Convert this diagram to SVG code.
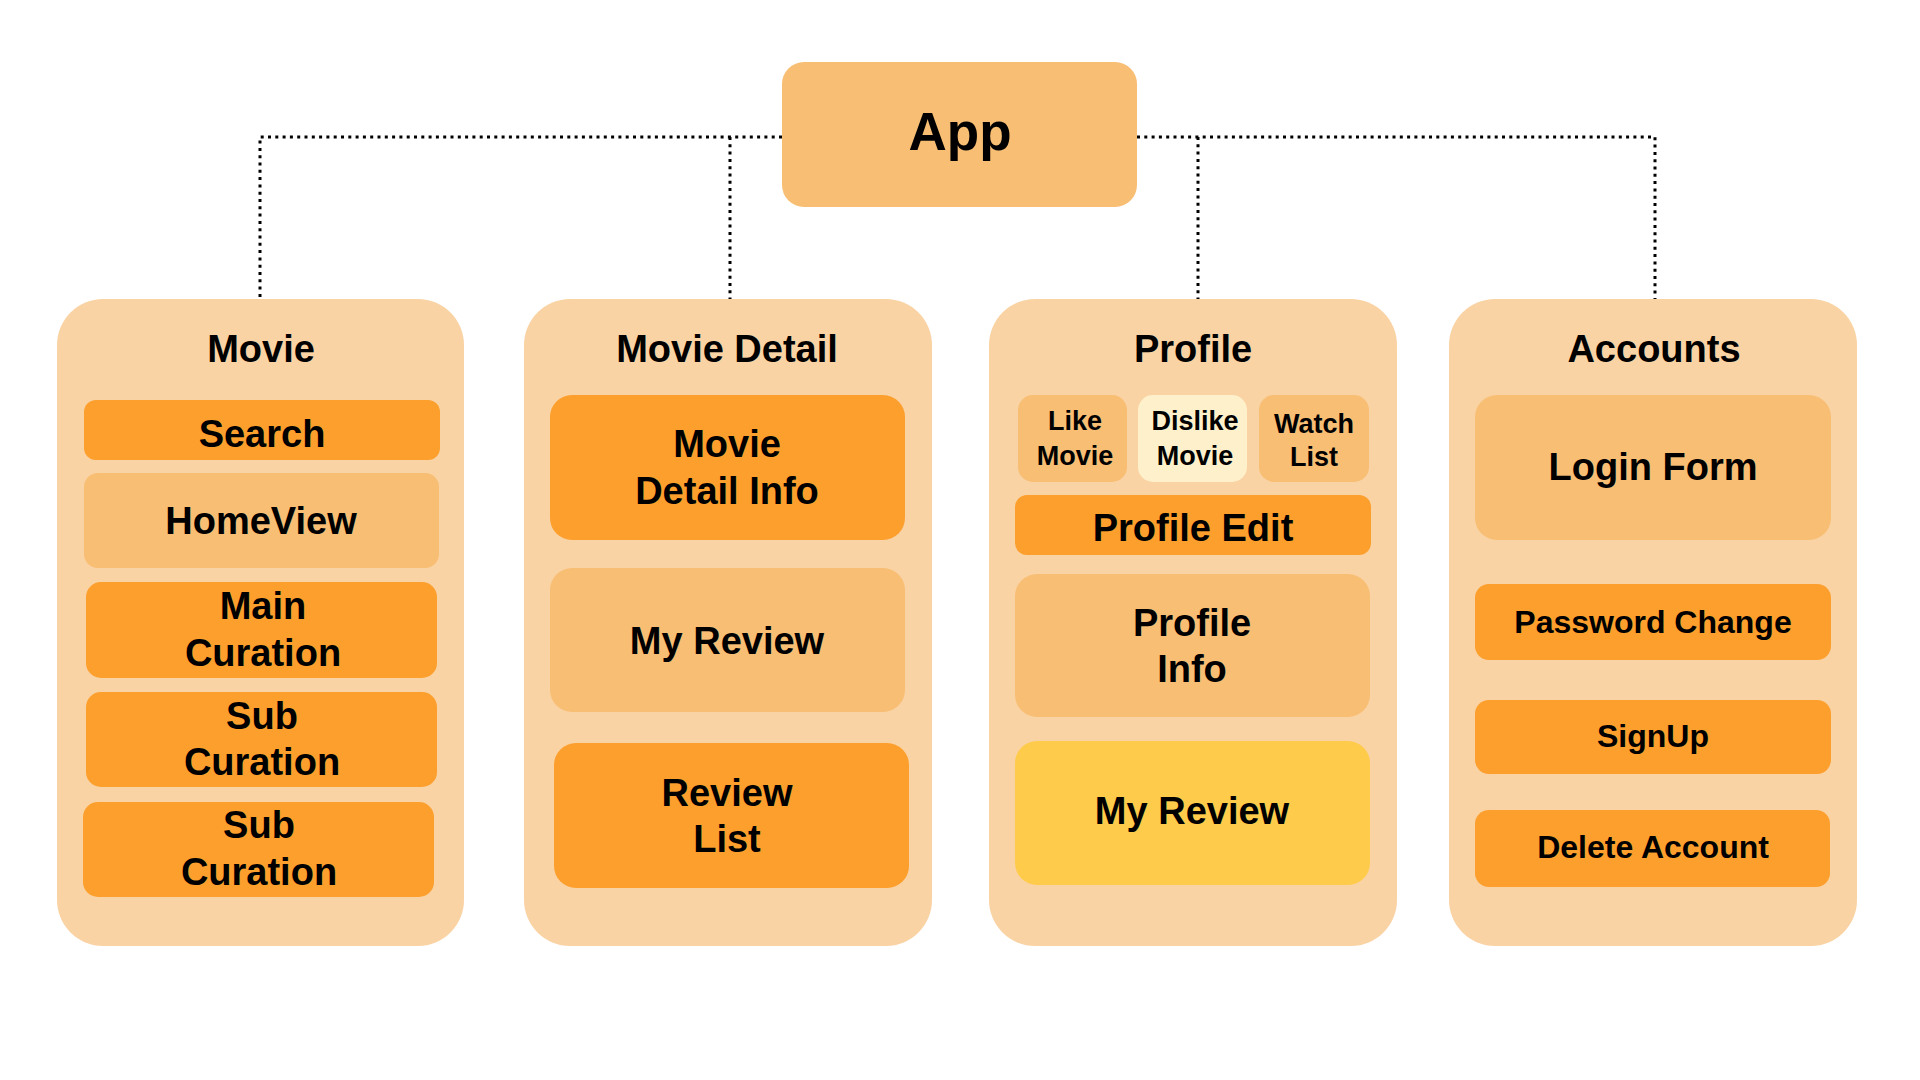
<svg xmlns="http://www.w3.org/2000/svg" width="1920" height="1080" viewBox="0 0 1920 1080">
<style>
.col{fill:#FAD3A4}
.or{fill:#FC9F2D}
.lo{fill:#F8BE74}
.cr{fill:#FEF0CB}
.ye{fill:#FECB4B}
text{font-family:"Liberation Sans",Arial,sans-serif;font-weight:bold;fill:#000;text-anchor:middle}
.t38{font-size:38px}
.t32{font-size:32px}
.t27{font-size:27px}
.conn{fill:none;stroke:#000;stroke-width:3;stroke-dasharray:3 4.3}
</style>
<rect width="1920" height="1080" fill="#fff"/>
<g id="connectors">
<path class="conn" d="M782 137H260V299"/>
<path class="conn" d="M730 137V299"/>
<path class="conn" d="M1137 137H1655V299"/>
<path class="conn" d="M1198 137V299"/>
</g>
<g id="app">
<rect class="lo" x="782" y="62" width="355" height="145" rx="22"/>
<text x="960" y="150" style="font-size:53px">App</text>
</g>
<g id="movie">
<rect class="col" x="57" y="299" width="407" height="647" rx="46"/>
<text class="t38" x="261" y="362">Movie</text>
<g id="search"><rect class="or" x="84" y="400" width="356" height="60" rx="12"/><text class="t38" x="262" y="447">Search</text></g>
<g id="homeview"><rect class="lo" x="84" y="473" width="355" height="95" rx="14"/><text class="t38" x="261" y="534">HomeView</text></g>
<g id="main-curation"><rect class="or" x="86" y="582" width="351" height="96" rx="15"/><text class="t38" x="263" y="619">Main</text><text class="t38" x="263" y="666">Curation</text></g>
<g id="sub-curation-1"><rect class="or" x="86" y="692" width="351" height="95" rx="15"/><text class="t38" x="262" y="729">Sub</text><text class="t38" x="262" y="775">Curation</text></g>
<g id="sub-curation-2"><rect class="or" x="83" y="802" width="351" height="95" rx="15"/><text class="t38" x="259" y="838">Sub</text><text class="t38" x="259" y="885">Curation</text></g>
</g>
<g id="movie-detail">
<rect class="col" x="524" y="299" width="408" height="647" rx="46"/>
<text class="t38" x="727" y="362">Movie Detail</text>
<g id="movie-detail-info"><rect class="or" x="550" y="395" width="355" height="145" rx="22"/><text class="t38" x="727" y="457">Movie</text><text class="t38" x="727" y="504">Detail Info</text></g>
<g id="my-review-detail"><rect class="lo" x="550" y="568" width="355" height="144" rx="22"/><text class="t38" x="727" y="654">My Review</text></g>
<g id="review-list"><rect class="or" x="554" y="743" width="355" height="145" rx="22"/><text class="t38" x="727" y="806">Review</text><text class="t38" x="727" y="852">List</text></g>
</g>
<g id="profile">
<rect class="col" x="989" y="299" width="408" height="647" rx="46"/>
<text class="t38" x="1193" y="362">Profile</text>
<g id="like-movie"><rect class="lo" x="1018" y="395" width="109" height="87" rx="15"/><text class="t27" x="1075" y="430">Like</text><text class="t27" x="1075" y="465">Movie</text></g>
<g id="dislike-movie"><rect class="cr" x="1138" y="395" width="109" height="87" rx="15"/><text class="t27" x="1195" y="430">Dislike</text><text class="t27" x="1195" y="465">Movie</text></g>
<g id="watch-list"><rect class="lo" x="1259" y="395" width="110" height="87" rx="15"/><text class="t27" x="1314" y="433">Watch</text><text class="t27" x="1314" y="466">List</text></g>
<g id="profile-edit"><rect class="or" x="1015" y="495" width="356" height="60" rx="12"/><text class="t38" x="1193" y="541">Profile Edit</text></g>
<g id="profile-info"><rect class="lo" x="1015" y="574" width="355" height="143" rx="22"/><text class="t38" x="1192" y="636">Profile</text><text class="t38" x="1192" y="682">Info</text></g>
<g id="my-review-profile"><rect class="ye" x="1015" y="741" width="355" height="144" rx="22"/><text class="t38" x="1192" y="824">My Review</text></g>
</g>
<g id="accounts">
<rect class="col" x="1449" y="299" width="408" height="647" rx="46"/>
<text class="t38" x="1654" y="362">Accounts</text>
<g id="login-form"><rect class="lo" x="1475" y="395" width="356" height="145" rx="22"/><text class="t38" x="1653" y="480">Login Form</text></g>
<g id="password-change"><rect class="or" x="1475" y="584" width="356" height="76" rx="14"/><text class="t32" x="1653" y="633">Password Change</text></g>
<g id="signup"><rect class="or" x="1475" y="700" width="356" height="74" rx="14"/><text class="t32" x="1653" y="747">SignUp</text></g>
<g id="delete-account"><rect class="or" x="1475" y="810" width="355" height="77" rx="14"/><text class="t32" x="1653" y="858">Delete Account</text></g>
</g>
</svg>
